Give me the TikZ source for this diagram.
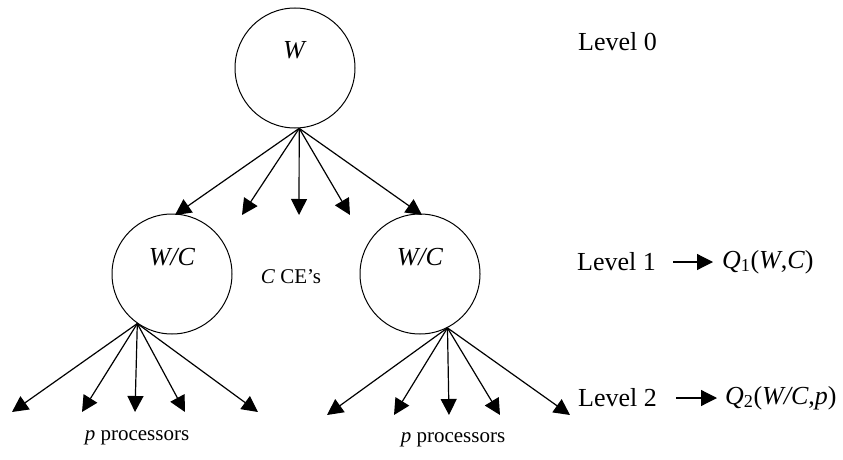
\documentclass[tikz,border=0pt]{standalone}
\usepackage{fontspec}
\setmainfont{Liberation Serif}
\usetikzlibrary{arrows.meta}
\newcommand{\bigtext}{\fontsize{26}{30}\selectfont}
\newcommand{\smalltext}{\fontsize{21}{25}\selectfont}
\begin{document}
\begin{tikzpicture}[
  x=1pt,
  y=-1pt,
  line join=round,
  >={Triangle[length=16pt,width=16pt]},
  ce/.style={circle, draw, line width=1pt, minimum size=120pt, inner sep=0pt},
  edge/.style={->, line width=1.2pt},
  lvl/.style={anchor=west, font=\bigtext, inner sep=0pt}
]
  \useasboundingbox (0,0) rectangle (843,460);

  % the three work circles
  \node[ce, label={[font=\bigtext, yshift=18pt]center:\textit{W}}] (top) at (295,68) {};
  \node[ce, label={[font=\bigtext, yshift=17pt]center:\textit{W/C}}] (left) at (172,274) {};
  \node[ce, label={[font=\bigtext, yshift=17pt]center:\textit{W/C}}] (right) at (420,274) {};
  \node[font=\smalltext] (ces) at (291,277) {\textit{C} CE’s};

  % level 0 -> level 1
  \foreach \x [count=\i] in {175,242,299,350,422}
  {
    \coordinate (a\i) at (\x,215);
    \draw[edge] (top.-86) -- (a\i);
  }

  % level 1 -> level 2
  \foreach \x [count=\i] in {12,82,135,185,258}
  {
    \coordinate (l\i) at (\x,412);
    \draw[edge] (left.-125) -- (l\i);
  }
  \foreach \x [count=\i] in {327,394,449,500,570}
  {
    \coordinate (r\i) at (\x,415);
    \draw[edge] (right.-63) -- (r\i);
  }

  \node[font=\smalltext] (pleft) at (137,438) {\textit{p} processors};
  \node[font=\smalltext] (pright) at (453,440) {\textit{p} processors};

  % level labels
  \node[lvl] (lev0) at (578,42) {Level 0};
  \node[lvl] (lev1) at (577,262) {Level 1};
  \node[lvl] (q1) at (722,262) {\textit{Q}\textsubscript{1}(\textit{W},\textit{C})};
  \node[lvl] (lev2) at (578,398) {Level 2};
  \node[lvl] (q2) at (725,398) {\textit{Q}\textsubscript{2}(\textit{W/C},\textit{p})};
  \draw[edge] ([xshift=17pt]lev1.east) -- ([xshift=-9pt]q1.west);
  \draw[edge] ([xshift=19pt]lev2.east) -- ([xshift=-8pt]q2.west);
\end{tikzpicture}
\end{document}
